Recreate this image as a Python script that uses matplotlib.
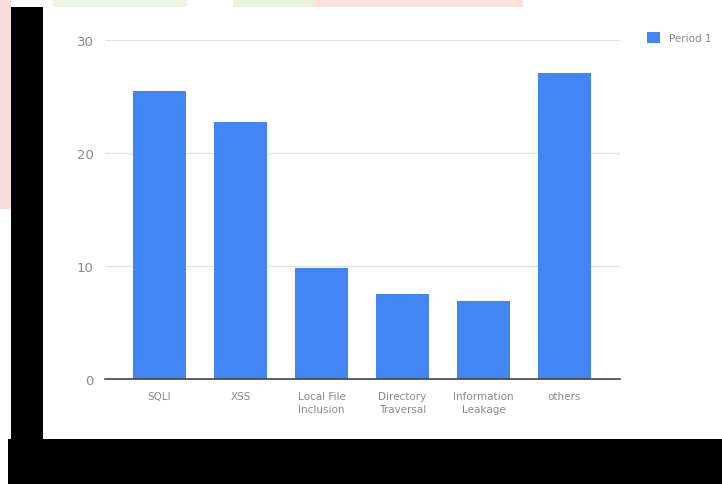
import matplotlib
matplotlib.use("Agg")
from matplotlib import pyplot as plt
from matplotlib.patches import Rectangle
import numpy as np

categories = ["SQLI", "XSS", "Local File\nInclusion", "Directory\nTraversal",
              "Information\nLeakage", "others"]
period_1 = [25.5, 22.7, 9.8, 7.5, 6.9, 27.1]
y_ticks = [0, 10, 20, 30]

W, H = 722, 485
fig = plt.figure(figsize=(W / 100, H / 100), dpi=100)
fig.patch.set_facecolor("white")


def px_rect(x0, y0, w, h, color, z=0):
    # rectangle given in pixels from the top-left corner
    fig.patches.append(Rectangle((x0 / W, 1 - (y0 + h) / H), w / W, h / H,
                                 transform=fig.transFigure, facecolor=color,
                                 edgecolor="none", zorder=z))


# scan artefacts: pastel strip on top, black borders left and bottom
px_rect(0, 0, 11, 210, "#f8dcdc")
px_rect(53, 0, 134, 8, "#eef5e4")
px_rect(233, 0, 80, 8, "#eaf4dc")
px_rect(313, 0, 210, 8, "#fbe3dc")
px_rect(11, 8, 32, 477, "black", 5)
px_rect(8, 440, 714, 45, "black", 5)

left, right = 105, 620
y0, y30 = 380, 41
ax = fig.add_axes([left / W, (H - y0) / H, (right - left) / W, (y0 - y30) / H])
ax.set_facecolor("none")

x = np.arange(len(categories))
ax.bar(x, period_1, width=0.654, color="#4285f4", zorder=3, label="Period 1")

ax.set_xlim(-0.673, 5.685)
ax.set_ylim(0, 30)
ax.set_yticks(y_ticks)
ax.set_yticklabels([str(t) for t in y_ticks])
ax.set_xticks(x)
ax.set_xticklabels(categories, linespacing=1.35)
ax.grid(axis="y", color="#e3e3e3", linewidth=1, zorder=0)
for s in ["top", "right", "left"]:
    ax.spines[s].set_visible(False)
ax.spines["bottom"].set_color("#444444")
ax.spines["bottom"].set_linewidth(1.2)
ax.spines["bottom"].set_zorder(4)
ax.tick_params(axis="y", length=0, pad=8, labelsize=9.5, labelcolor="#8a8a8a")
ax.tick_params(axis="x", length=0, pad=9, labelsize=7.5, labelcolor="#8a8a8a")

ax.legend(loc="upper left", bbox_to_anchor=(638 / W, 1 - 24 / H),
          bbox_transform=fig.transFigure, frameon=False, fontsize=7.5,
          labelcolor="#8a8a8a", handlelength=1.2, handleheight=1.2,
          handletextpad=0.9)

fig.savefig("out.png", dpi=100)
